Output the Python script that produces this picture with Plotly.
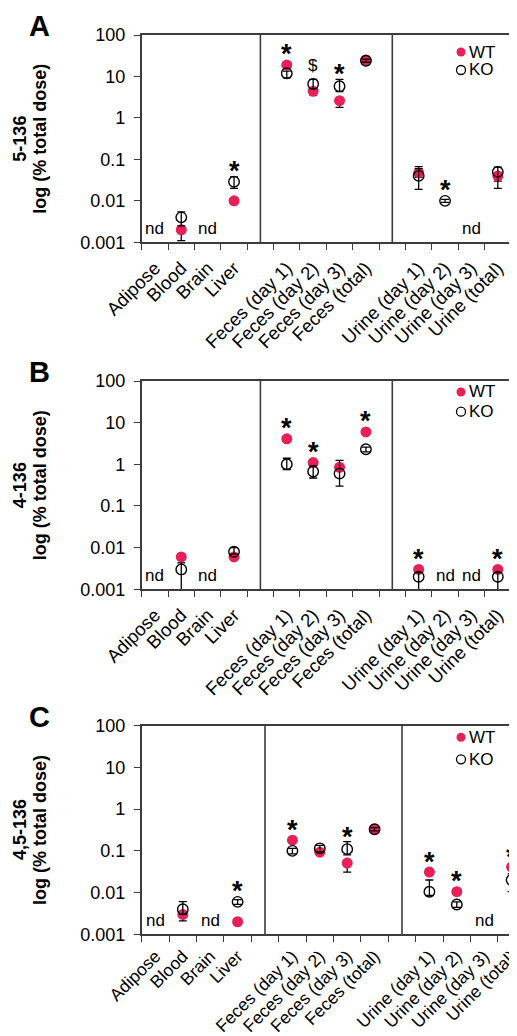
import math
import plotly.graph_objects as go

FONT = "Liberation Sans, Arial, sans-serif"
RED = "#E8205A"
FRAME = "#3c3c3c"

# ---------------- data ----------------
GAP1, GAP2 = "\u2002", "\u2002\u2002"
tissues = ["Adipose", "Blood", "Brain", "Liver"]
feces = ["Feces (day 1)", "Feces (day 2)", "Feces (day 3)", "Feces (total)"]
urine = ["Urine (day 1)", "Urine (day 2)", "Urine (day 3)", "Urine (total)"]
categories = tissues + [GAP1] + feces + [GAP2] + urine
samples = tissues + feces + urine

panel_letters = ["A", "B", "C"]
congeners = ["5-136", "4-136", "4,5-136"]

# Panel A : 5-136
wt_A = [None, 0.002, None, 0.01, 19, 4.4, 2.6, 25, 0.047, None, None, 0.04]
wt_A_up = [None, 0, None, 0, 1.5, 0.6, 0.3, 2, 0.02, None, None, 0.008]
wt_A_dn = [None, 0.0009, None, 0, 1.5, 0.8, 0.8, 2, 0.01, None, None, 0.01]
ko_A = [None, 0.004, None, 0.029, 12, 6.6, 5.8, 24, 0.04, 0.01, None, 0.05]
ko_A_up = [None, 0.0014, None, 0.009, 1.5, 1.9, 2.7, 2, 0.02, 0.0008, None, 0.015]
ko_A_dn = [None, 0.0015, None, 0.009, 2.8, 1.5, 1.5, 2, 0.021, 0.0008, None, 0.03]
stars_A = ["", "", "", "*", "*", "$", "*", "", "", "*", "", ""]
nd_A = ["nd", "", "nd", "", "", "", "", "", "", "", "nd", ""]

# Panel B : 4-136
wt_B = [None, 0.006, None, 0.006, 4.1, 1.1, 0.85, 6.0, 0.003, None, None, 0.003]
wt_B_up = [None, 0, None, 0, 0.3, 0.1, 0.1, 0.5, 0.0002, None, None, 0.0002]
wt_B_dn = [None, 0, None, 0, 0.3, 0.1, 0.1, 0.5, 0.0002, None, None, 0.0002]
ko_B = [None, 0.003, None, 0.008, 1.0, 0.67, 0.6, 2.3, 0.002, None, None, 0.002]
ko_B_up = [None, 0.0013, None, 0.002, 0.4, 0.25, 0.65, 0.3, 0.0005, None, None, 0.0005]
ko_B_dn = [None, 0.0025, None, 0.001, 0.25, 0.2, 0.3, 0.3, 0.0019, None, None, 0.0019]
stars_B = ["", "", "", "", "*", "*", "", "*", "*", "", "", "*"]
nd_B = ["nd", "", "nd", "", "", "", "", "", "", "nd", "nd", ""]

# Panel C : 4,5-136
wt_C = [None, 0.003, None, 0.002, 0.18, 0.093, 0.051, 0.33, 0.031, 0.0105, None, 0.041]
wt_C_up = [None, 0.0005, None, 0, 0.01, 0.005, 0.005, 0.02, 0.002, 0.0005, None, 0.003]
wt_C_dn = [None, 0.0009, None, 0, 0.01, 0.01, 0.02, 0.02, 0.002, 0.0005, None, 0.003]
ko_C = [None, 0.004, None, 0.006, 0.10, 0.115, 0.11, 0.33, 0.0105, 0.0052, None, 0.02]
ko_C_up = [None, 0.0021, None, 0.0008, 0.015, 0.02, 0.057, 0.03, 0.0095, 0.0008, None, 0.008]
ko_C_dn = [None, 0.001, None, 0.0008, 0.015, 0.02, 0.03, 0.03, 0.002, 0.0008, None, 0.0095]
stars_C = ["", "", "", "*", "*", "", "*", "", "*", "*", "", "*"]
nd_C = ["nd", "", "nd", "", "", "", "", "", "", "", "nd", ""]

yticks = [0.001, 0.01, 0.1, 1, 10, 100]
yticklabels = ["0.001", "0.01", "0.1", "1", "10", "100"]

panels = [
    (wt_A, wt_A_up, wt_A_dn, ko_A, ko_A_up, ko_A_dn, stars_A, nd_A),
    (wt_B, wt_B_up, wt_B_dn, ko_B, ko_B_up, ko_B_dn, stars_B, nd_B),
    (wt_C, wt_C_up, wt_C_dn, ko_C, ko_C_up, ko_C_dn, stars_C, nd_C),
]

# ---------------- layout geometry (window pixels) ----------------
W, H = 517, 1036
OFF = 8          # page body margin in front of the figure
plot_left = 141.7
plot_right = [511, 511, None]           # panel C runs past the window edge
cat_px = [26.36, 26.36, 27.4]
plot_top = [35, 381, 725.7]
plot_bot = [242.3, 589.3, 934.3]
leg_y = [(52, 70), (392, 411.7), (737.3, 759.3)]
letter_y = [26, 372, 717]
xlab_size = [18.5, 18.5, 17.5]
xlab_gap = [6, 6, 3]

def px(x):
    return (x - OFF) / W

def py(y):
    return 1 - (y - OFF) / H

fig = go.Figure()
annotations = []
shapes = []

for i, (wt, wtu, wtd, ko, kou, kod, stars, nds) in enumerate(panels):
    n = i + 1
    xa = "x" if n == 1 else f"x{n}"
    ya = "y" if n == 1 else f"y{n}"
    xk = "xaxis" if n == 1 else f"xaxis{n}"
    yk = "yaxis" if n == 1 else f"yaxis{n}"

    fig.add_trace(go.Scatter(
        x=samples, y=wt, mode="markers", name="WT", showlegend=False,
        xaxis=xa, yaxis=ya,
        marker=dict(color=RED, size=11, line=dict(width=0)),
        error_y=dict(type="data", symmetric=False, array=wtu, arrayminus=wtd,
                     color="black", thickness=1.3, width=4),
        cliponaxis=True,
    ))
    fig.add_trace(go.Scatter(
        x=samples, y=ko, mode="markers", name="KO", showlegend=False,
        xaxis=xa, yaxis=ya,
        marker=dict(symbol="circle-open", color="black", size=10.5,
                    line=dict(width=1.4, color="black")),
        error_y=dict(type="data", symmetric=False, array=kou, arrayminus=kod,
                     color="black", thickness=1.3, width=4),
        cliponaxis=True,
    ))

    top, bot = plot_top[i], plot_bot[i]
    ppd = (bot - top) / 5.0
    if plot_right[i] is None:
        dom_r = px(W)
        rmax = -0.5 + (W - plot_left) / cat_px[i]
    else:
        dom_r = px(plot_right[i])
        rmax = 13.5

    fig.layout[xk] = dict(
        domain=[px(plot_left), dom_r], anchor=ya, automargin=False,
        type="category", categoryorder="array", categoryarray=categories,
        range=[-0.5, rmax], tickson="boundaries",
        ticks="outside", ticklen=6, tickwidth=1.3, tickcolor=FRAME,
        showline=True, linecolor=FRAME, linewidth=1.6, mirror=True,
        showgrid=False, zeroline=False, tickangle=-45,
        ticklabelstandoff=xlab_gap[i],
        tickfont=dict(family=FONT, size=xlab_size[i], color="black"),
    )
    fig.layout[yk] = dict(
        domain=[py(bot), py(top)], anchor=xa, type="log", range=[-3, 2],
        automargin=False,
        tickvals=yticks, ticktext=yticklabels,
        ticks="outside", ticklen=6, tickwidth=1.3, tickcolor=FRAME,
        showline=True, linecolor=FRAME, linewidth=1.6,
        mirror=(plot_right[i] is not None),
        showgrid=False, zeroline=False, ticklabelstandoff=5,
        tickfont=dict(family=FONT, size=18, color="black"),
    )

    # dividers between sample groups
    for gap in (GAP1, GAP2):
        gx = categories.index(gap)
        shapes.append(dict(type="line", xref=xa, yref=f"{ya} domain",
                           x0=gx, x1=gx, y0=0, y1=1,
                           line=dict(color=FRAME, width=1.6)))

    # significance marks
    r = 5.5 / ppd
    for s, txt in enumerate(stars):
        if not txt:
            continue
        tops = []
        for v, up in ((wt[s], wtu[s]), (ko[s], kou[s])):
            if v is not None:
                tops.append(math.log10(v) + r)
                tops.append(math.log10(v + (up or 0)))
        base = max(tops)
        annotations.append(dict(
            x=samples[s], y=base, xref=xa, yref=ya,
            text=("<b>*</b>" if txt == "*" else txt), showarrow=False,
            yanchor="middle", yshift=(5 if txt == "*" else 13),
            font=dict(family=FONT, size=(27 if txt == "*" else 17), color="black"),
        ))
    # not detected
    for s, txt in enumerate(nds):
        if not txt:
            continue
        annotations.append(dict(
            x=samples[s], y=-2.66, xref=xa, yref=ya, text=txt, showarrow=False,
            yanchor="middle", font=dict(family=FONT, size=17, color="black"),
        ))

    # axis titles
    cy = py((top + bot) / 2)
    annotations.append(dict(x=px(20), y=cy, xref="paper", yref="paper",
                            text=f"<b>{congeners[i]}</b>", textangle=-90,
                            showarrow=False, xanchor="center", yanchor="middle",
                            font=dict(family=FONT, size=18, color="black")))
    annotations.append(dict(x=px(40), y=cy, xref="paper", yref="paper",
                            text="<b>log (% total dose)</b>", textangle=-90,
                            showarrow=False, xanchor="center", yanchor="middle",
                            font=dict(family=FONT, size=18, color="black")))
    # panel letter
    annotations.append(dict(x=px(39), y=py(letter_y[i]), xref="paper", yref="paper",
                            text=f"<b>{panel_letters[i]}</b>", showarrow=False,
                            xanchor="center", yanchor="middle",
                            font=dict(family=FONT, size=29, color="black")))

    # legend
    lx = 461
    for (label, ly, filled) in (("WT", leg_y[i][0], True), ("KO", leg_y[i][1], False)):
        shapes.append(dict(type="circle", xref="paper", yref="paper",
                           xsizemode="pixel", ysizemode="pixel",
                           xanchor=px(lx), yanchor=py(ly),
                           x0=-4.5, x1=4.5, y0=-4.5, y1=4.5,
                           fillcolor=RED if filled else "rgba(0,0,0,0)",
                           line=dict(color="black" if not filled else RED,
                                     width=1.3 if not filled else 0)))
        annotations.append(dict(x=px(467), y=py(ly), xref="paper", yref="paper",
                                text=label, showarrow=False, xanchor="left",
                                yanchor="middle",
                                font=dict(family=FONT, size=17, color="black")))

fig.update_layout(
    width=W, height=H, autosize=False,
    margin=dict(l=0, r=0, t=0, b=0, autoexpand=False),
    paper_bgcolor="white", plot_bgcolor="white",
    showlegend=False,
    annotations=annotations, shapes=shapes,
    font=dict(family=FONT, color="black"),
)

fig.write_html("out.html")
